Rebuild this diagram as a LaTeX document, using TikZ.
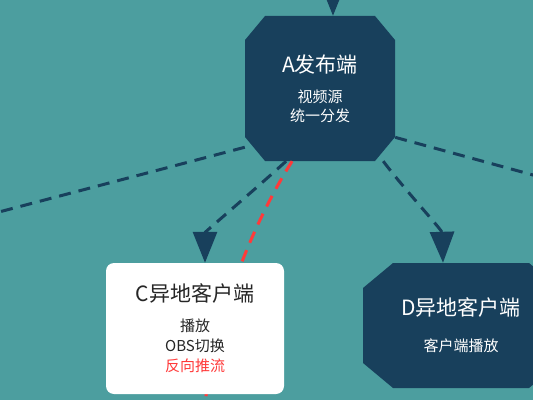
\documentclass[tikz,border=0pt]{standalone}
\usepackage{fontspec}
\newfontfamily\cjk{Noto Sans CJK SC}
\usepackage{tikz}
\usetikzlibrary{calc,arrows.meta}
\usepackage{xcolor}
\definecolor{bgteal}{RGB}{76,158,159}
\definecolor{navy}{RGB}{24,64,92}
\definecolor{linkred}{RGB}{255,58,58}

\begin{document}
\begin{tikzpicture}[x=1pt,y=1pt,
  pub/.style n args={2}{rectangle,text=white,inner sep=0pt,align=center,
    font=\cjk\fontsize{15}{19}\selectfont,
    path picture={
      \path (path picture bounding box.south west) coordinate (sw)
            (path picture bounding box.north east) coordinate (ne);
      \fill [navy] ($(sw|-ne)+(#1,0)$) -- ($(ne)+(-#1,0)$) -- ($(ne)+(0,-#2)$)
        -- ($(ne|-sw)+(0,#2)$) -- ($(ne|-sw)+(-#1,0)$) -- ($(sw)+(#1,0)$)
        -- ($(sw)+(0,#2)$) -- ($(sw|-ne)+(0,-#2)$) -- cycle;}},
  client/.style={rectangle,rounded corners=8pt,fill=white,text=black!85,inner sep=0pt,
    align=center,font=\cjk\fontsize{15}{20}\selectfont},
  link/.style={draw=navy,line width=3pt,dash pattern=on 12pt off 8pt},
  redlink/.style={draw=linkred,line width=3pt,dash pattern=on 12pt off 8pt},
  tip/.style={-{Triangle[length=31pt,width=24pt]}}]
\useasboundingbox (0,0) rectangle (533,400);
\clip (0,0) rectangle (533,400);
\fill [bgteal] (0,0) rectangle (533,400);

\node [pub={20}{24},minimum width=150pt,minimum height=145pt] (A) at (320,311.5)
  {{\fontsize{21}{25}\selectfont A发布端}\\[11pt]视频源\\统一分发};
\node [pub={30}{25},minimum width=196pt,minimum height=125pt] (D) at (461,74.5)
  {{\fontsize{21}{25}\selectfont D异地客户端}\\[17pt]客户端播放};

\coordinate (in) at (333,445);
\coordinate (west) at (-20,183);
\coordinate (east) at (555,219);
\coordinate (down) at (204,-12);

\draw [navy,line width=3pt,tip] (in) -- ($(A.north)+(13,0)$);
\draw [link] (A.218) -- (west);
\draw [link] (A.-33) -- (east);
\draw [link,tip] (A.-49) .. controls (405,210) and (442,170) .. ($(D.north)+(-18,0)$);
\draw [redlink] (A.-111) .. controls (258,185) and (215,90) .. (down);

\node [client,minimum width=178pt,minimum height=131pt] (C) at (195,71.5)
  {{\fontsize{21}{25}\selectfont C异地客户端}\\[10pt]播放\\OBS切换\\\textcolor{linkred}{反向推流}};

\draw [link,tip] (A.-115) .. controls (260,215) and (205,168) .. ($(C.north)+(10,0)$);
\end{tikzpicture}
\end{document}
